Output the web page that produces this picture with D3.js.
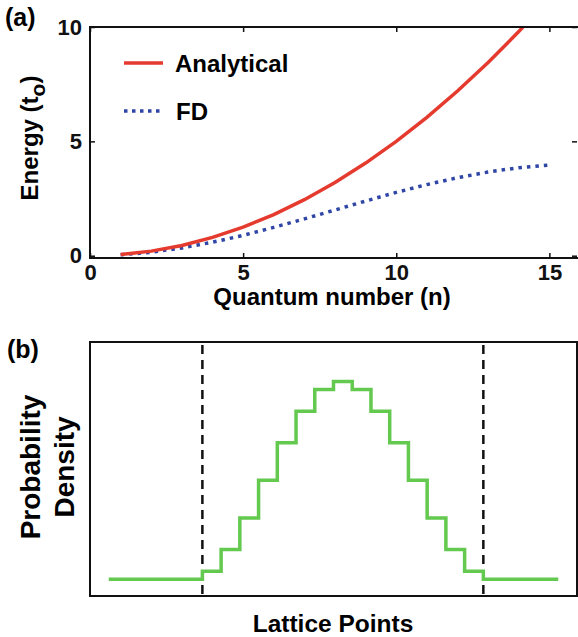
<!DOCTYPE html>
<html>
<head>
<meta charset="utf-8">
<script src="https://cdn.jsdelivr.net/npm/d3@7"></script>
<style>
  body { margin: 0; background: #fff; }
  svg { display: block; font-family: "Liberation Sans", Arial, sans-serif; font-weight: bold; }
</style>
</head>
<body>
<div id="chart"></div>
<script>
// Panel (a) data: energy levels vs quantum number
var quantumN = [1, 2, 3, 4, 5, 6, 7, 8, 9, 10, 11, 12, 13, 14, 15];
var analytical = [0.05, 0.2, 0.45, 0.8, 1.25, 1.8, 2.45, 3.2, 4.05, 5.0, 6.05, 7.2, 8.45, 9.8, 11.25];
var fd = [0.04, 0.15, 0.34, 0.59, 0.89, 1.24, 1.61, 2.0, 2.39, 2.77, 3.11, 3.41, 3.66, 3.85, 3.96];
var xTicksA = [0, 5, 10, 15];
var yTicksA = [0, 5, 10];

// Panel (b) data: probability density on lattice points (step plot)
var latticeX = [-5, 0, 1, 2, 3, 4, 5, 6, 7, 8, 9, 10, 11, 12, 13, 14, 15, 19];
var density = [0, 0.04, 0.15, 0.31, 0.5, 0.69, 0.85, 0.96, 1, 0.96, 0.85, 0.69, 0.5, 0.31, 0.15, 0.04, 0, 0];
var boundaries = [0, 15];

var svgWidth = 578;
var svgHeight = 637;

var svg = d3.select("#chart")
  .append("svg")
  .attr("width", svgWidth)
  .attr("height", svgHeight);

var red = "#e53a2e";
var blue = "#2f46a6";
var green = "#63c94f";

// ---------- panel (a) ----------
var a = { left: 90, right: 580, top: 27, bottom: 258 };

var xA = d3.scaleLinear().domain([0, 16]).range([a.left, a.right]);
var yA = d3.scaleLinear().domain([-0.1, 10]).range([a.bottom, a.top]);

svg.append("defs").append("clipPath")
  .attr("id", "clipA")
  .append("rect")
  .attr("x", a.left)
  .attr("y", a.top)
  .attr("width", a.right - a.left)
  .attr("height", a.bottom - a.top);

var line = d3.line()
  .x((d, i) => xA(quantumN[i]))
  .y(d => yA(d));

var plotA = svg.append("g").attr("clip-path", "url(#clipA)");

plotA.append("path")
  .datum(fd)
  .attr("d", line)
  .attr("fill", "none")
  .attr("stroke", blue)
  .attr("stroke-width", 3.5)
  .attr("stroke-dasharray", "3.5,5");

plotA.append("path")
  .datum(analytical)
  .attr("d", line)
  .attr("fill", "none")
  .attr("stroke", red)
  .attr("stroke-width", 3.5);

// box
svg.append("rect")
  .attr("x", a.left)
  .attr("y", a.top)
  .attr("width", a.right - a.left)
  .attr("height", a.bottom - a.top)
  .attr("fill", "none")
  .attr("stroke", "#111")
  .attr("stroke-width", 2);

// axes with inward ticks
var bottomA = svg.append("g")
  .attr("transform", `translate(0, ${a.bottom})`)
  .call(d3.axisBottom(xA).tickValues(xTicksA).tickSizeInner(-5).tickSizeOuter(0).tickPadding(6));
var topA = svg.append("g")
  .attr("transform", `translate(0, ${a.top})`)
  .call(d3.axisTop(xA).tickValues(xTicksA).tickSizeInner(-5).tickSizeOuter(0).tickFormat(""));
var leftA = svg.append("g")
  .attr("transform", `translate(${a.left}, 0)`)
  .call(d3.axisLeft(yA).tickValues(yTicksA).tickSizeInner(-5).tickSizeOuter(0).tickPadding(8));
var rightA = svg.append("g")
  .attr("transform", `translate(${a.right - 3}, 0)`)
  .call(d3.axisRight(yA).tickValues(yTicksA).tickSizeInner(-5).tickSizeOuter(0).tickFormat(""));

[bottomA, topA, leftA, rightA].forEach(function(g) {
  g.select(".domain").remove();
  g.selectAll("line").attr("stroke", "#111").attr("stroke-width", 1.5);
  g.selectAll("text")
    .attr("fill", "#111")
    .style("font-size", "22px")
    .style("font-weight", "bold")
    .style("font-family", "Liberation Sans, Arial, sans-serif");
});

// legend
svg.append("line")
  .attr("x1", 124).attr("x2", 163)
  .attr("y1", 63).attr("y2", 63)
  .attr("stroke", red).attr("stroke-width", 3.5);
svg.append("text")
  .attr("x", 175).attr("y", 72)
  .style("font-size", "24px")
  .text("Analytical");

svg.append("line")
  .attr("x1", 124).attr("x2", 163)
  .attr("y1", 111).attr("y2", 111)
  .attr("stroke", blue).attr("stroke-width", 3.5)
  .attr("stroke-dasharray", "3.5,4.5");
svg.append("text")
  .attr("x", 176).attr("y", 120)
  .style("font-size", "24px")
  .text("FD");

// labels
svg.append("text")
  .attr("x", 5).attr("y", 26)
  .style("font-size", "25px")
  .text("(a)");

var eLabel = svg.append("text")
  .attr("transform", "translate(38, 138) rotate(-90)")
  .attr("text-anchor", "middle")
  .style("font-size", "24px");
eLabel.append("tspan").text("Energy (t");
eLabel.append("tspan").attr("dy", 7).style("font-size", "21px").text("o");
eLabel.append("tspan").attr("dy", -7).text(")");

svg.append("text")
  .attr("x", 332).attr("y", 305)
  .attr("text-anchor", "middle")
  .style("font-size", "24px")
  .text("Quantum number (n)");

// ---------- panel (b) ----------
var b = { left: 90, right: 577, top: 342, bottom: 596 };

var xB = d3.scaleLinear().domain([-6, 20]).range([b.left, b.right]);
var yB = d3.scaleLinear().domain([-0.085, 1.2]).range([b.bottom, b.top]);

svg.append("rect")
  .attr("x", b.left)
  .attr("y", b.top)
  .attr("width", b.right - b.left)
  .attr("height", b.bottom - b.top)
  .attr("fill", "none")
  .attr("stroke", "#111")
  .attr("stroke-width", 2);

svg.selectAll(".boundary")
  .data(boundaries)
  .enter()
  .append("line")
  .attr("class", "boundary")
  .attr("x1", d => xB(d)).attr("x2", d => xB(d))
  .attr("y1", b.top + 3).attr("y2", b.bottom)
  .attr("stroke", "#111")
  .attr("stroke-width", 2.5)
  .attr("stroke-dasharray", "9,6");

var step = d3.line()
  .curve(d3.curveStepAfter)
  .x((d, i) => xB(latticeX[i]))
  .y(d => yB(d));

svg.append("path")
  .datum(density)
  .attr("d", step)
  .attr("fill", "none")
  .attr("stroke", green)
  .attr("stroke-width", 3.5);

svg.append("text")
  .attr("x", 7).attr("y", 358)
  .style("font-size", "25px")
  .text("(b)");

svg.append("text")
  .attr("transform", "translate(40, 467) rotate(-90)")
  .attr("text-anchor", "middle")
  .style("font-size", "28px")
  .text("Probability");
svg.append("text")
  .attr("transform", "translate(74, 467) rotate(-90)")
  .attr("text-anchor", "middle")
  .style("font-size", "28px")
  .text("Density");

svg.append("text")
  .attr("x", 333).attr("y", 632)
  .attr("text-anchor", "middle")
  .style("font-size", "24.5px")
  .text("Lattice Points");
</script>
</body>
</html>
